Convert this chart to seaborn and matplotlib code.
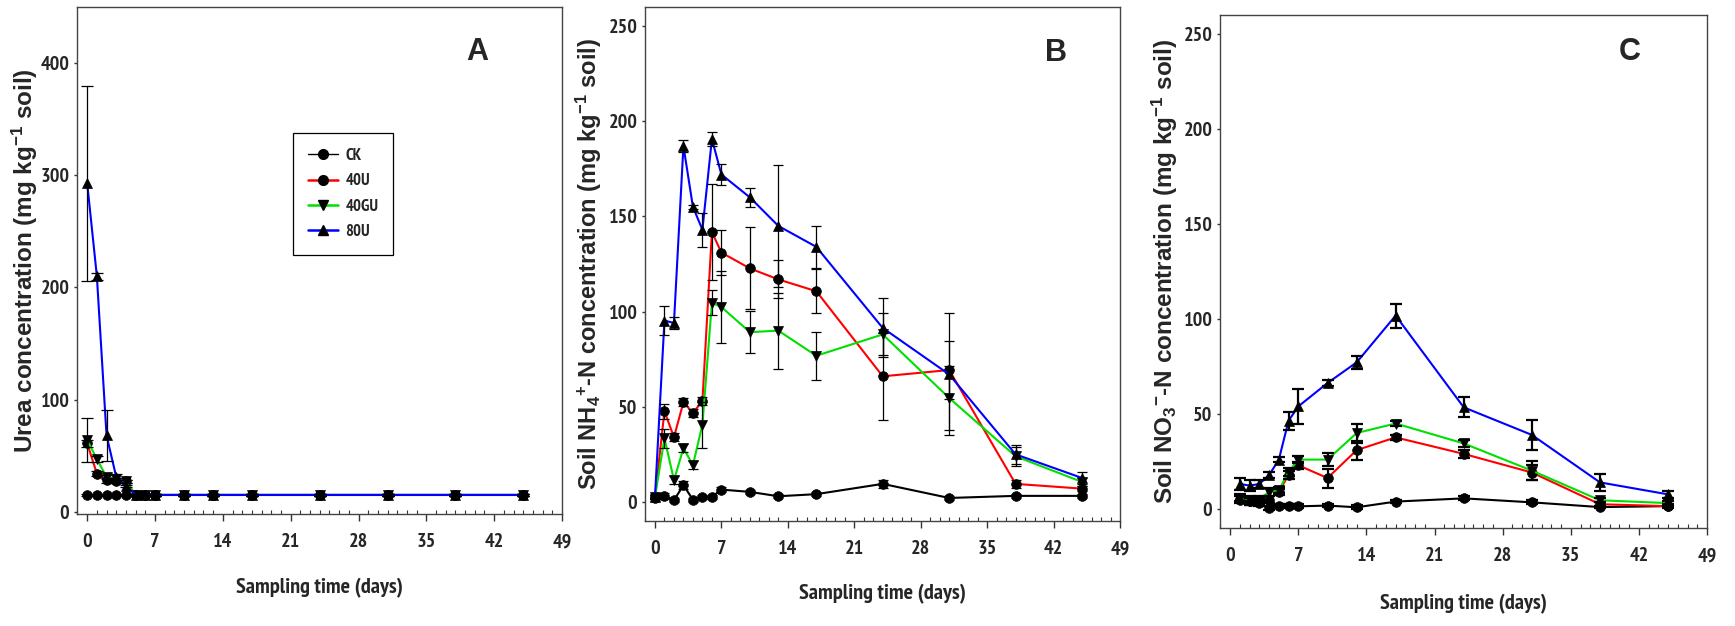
import numpy as np
import pandas as pd
import matplotlib
matplotlib.use("Agg")
import matplotlib.pyplot as plt
from matplotlib import font_manager as fm
from matplotlib.lines import Line2D
from matplotlib.ticker import MultipleLocator
import seaborn as sns

# ---------------- data ----------------
days = [0, 1, 2, 3, 4, 5, 6, 7, 10, 13, 17, 24, 31, 38, 45]
days_c = [1, 2, 3, 4, 5, 6, 7, 10, 13, 17, 24, 31, 38, 45]
treatments = ["CK", "40U", "40GU", "80U"]

# Urea concentration (mg kg-1 soil)
urea_ck = [15, 15, 15, 15, 15, 15, 15, 15, 15, 15, 15, 15, 15, 15, 15]
urea_40u = [61, 34, 28, 27, 27, 15, 15, 15, 15, 15, 15, 15, 15, 15, 15]
urea_40gu = [64, 47, 31, 29, 27, 15, 15, 15, 15, 15, 15, 15, 15, 15, 15]
urea_80u = [293, 210, 68, 31, 23, 15, 15, 15, 15, 15, 15, 15, 15, 15, 15]
urea_ck_se = [1, 1, 1, 1, 1, 1, 1, 1, 1, 1, 1, 1, 1, 1, 1]
urea_40u_se = [3, 2, 2, 1, 1, 1, 1, 1, 1, 1, 1, 1, 1, 1, 1]
urea_40gu_se = [20, 3, 2, 1, 1, 1, 1, 1, 1, 1, 1, 1, 1, 1, 1]
urea_80u_se = [87, 3, 23, 3, 1, 1, 1, 1, 1, 1, 1, 1, 1, 1, 1]

# Soil NH4+-N concentration (mg kg-1 soil)
nh4_ck = [2.3, 3.0, 0.9, 8.8, 1.2, 2.6, 2.6, 6.5, 5.3, 3.0, 4.1, 9.5, 2.1, 3.2, 3.2]
nh4_40u = [2.5, 47.7, 34.0, 52.4, 46.8, 53.0, 141.8, 131.0, 122.7, 116.9, 110.7, 66.0, 69.3, 9.5, 7.0]
nh4_40gu = [2.5, 33.5, 11.5, 28.2, 19.4, 40.6, 104.7, 102.4, 89.2, 90.0, 76.8, 88.0, 54.6, 24.0, 10.5]
nh4_80u = [2.5, 95.3, 94.0, 187.0, 155.0, 143.0, 190.7, 172.0, 160.0, 145.0, 134.0, 91.4, 67.0, 25.0, 12.6]
nh4_ck_se = [2, 1.5, 1, 2, 1, 1, 1, 1.5, 1, 1, 1, 2, 1, 1, 1]
nh4_40u_se = [1, 4, 2, 2, 2, 2, 25, 12, 21.6, 10, 11.5, 23, 15, 2, 1.5]
nh4_40gu_se = [1, 5, 2, 2, 2, 12, 6.5, 19, 11, 20, 12.6, 11, 17, 5, 2]
nh4_80u_se = [1, 7.4, 3.3, 3, 1, 9, 3.7, 5.5, 5, 32, 11, 15.5, 32, 5, 3]

# Soil NO3--N concentration (mg kg-1 soil)
no3_ck = [5.5, 4.0, 3.0, 0.5, 1.8, 1.4, 1.4, 1.8, 0.9, 3.9, 5.6, 3.5, 1.0, 1.5]
no3_40u = [5.0, 4.0, 4.0, 5.0, 9.0, 18.0, 23.0, 16.3, 31.0, 37.7, 29.0, 19.2, 2.5, 1.5]
no3_40gu = [6.0, 5.0, 5.0, 9.0, 10.0, 19.5, 26.0, 26.0, 40.0, 45.0, 34.5, 20.2, 4.6, 3.1]
no3_80u = [13.2, 12.3, 13.2, 17.9, 26.0, 46.5, 54.0, 66.3, 77.2, 101.8, 53.5, 39.0, 14.0, 7.7]
no3_ck_se = [2, 2, 1.5, 1, 1, 1, 1, 1, 1, 1, 1, 1, 0.5, 0.5]
no3_40u_se = [2, 2, 2, 2, 1.5, 2, 2, 5, 5, 1.5, 2, 4, 1, 1]
no3_40gu_se = [2, 2, 2, 2, 1.5, 2, 2, 3.5, 5, 1.5, 2, 5, 1, 1]
no3_80u_se = [3, 3, 2, 1.5, 1.5, 4.8, 9, 1.5, 3.3, 6.3, 5.3, 8, 4.5, 2]

x_ticks = [0, 7, 14, 21, 28, 35, 42, 49]

# ---------------- fonts ----------------
def pick_family(names, default="DejaVu Sans"):
    for n in names:
        try:
            fm.findfont(fm.FontProperties(family=n), fallback_to_default=False)
            return n
        except Exception:
            continue
    return default

SANS = pick_family(["Liberation Sans", "Arial", "DejaVu Sans"])
NARROW = pick_family(["PT Sans Narrow", "Roboto Condensed", "Open Sans Condensed"], default=None)


def narrow_fp(size):
    if NARROW is not None:
        return fm.FontProperties(family=NARROW, weight="bold", size=size)
    return fm.FontProperties(family="DejaVu Sans", weight="bold", stretch="condensed", size=size)


sns.set_style("ticks")
plt.rcParams["font.family"] = [SANS, "DejaVu Sans"]
plt.rcParams["mathtext.fontset"] = "custom"
plt.rcParams["mathtext.rm"] = f"{SANS}:bold"
plt.rcParams["mathtext.bf"] = f"{SANS}:bold"
plt.rcParams["mathtext.it"] = f"{SANS}:bold"
plt.rcParams["mathtext.default"] = "bf"

colors = {"CK": "#000000", "40U": "#FF0000", "40GU": "#00E000", "80U": "#0000FF"}
markers = {"CK": "o", "40U": "o", "40GU": "v", "80U": "^"}
msizes = {"CK": 7, "40U": 7, "40GU": 7.5, "80U": 7.5}

fig = plt.figure(figsize=(17.35, 6.26), dpi=100)
axA = fig.add_axes([77 / 1735, 1 - 514 / 626, 485 / 1735, 507 / 626])
axB = fig.add_axes([645 / 1735, 1 - 521 / 626, 475 / 1735, 514 / 626])
axC = fig.add_axes([1220 / 1735, 1 - 528 / 626, 487 / 1735, 513 / 626])


def draw_panel(ax, x, series, errs, err_lw, capsize):
    for name in treatments:
        df = pd.DataFrame({"day": x, "value": series[name]})
        sns.lineplot(data=df, x="day", y="value", ax=ax, color=colors[name],
                     lw=1.5, marker=markers[name], markersize=msizes[name],
                     markerfacecolor="black", markeredgecolor="black",
                     markeredgewidth=0.5, legend=False, errorbar=None, zorder=3)
    for name in treatments:
        ax.errorbar(x, series[name], yerr=errs[name], fmt="none", ecolor="black",
                    elinewidth=err_lw, capsize=capsize, capthick=err_lw, zorder=4)


draw_panel(axA, days,
           {"CK": urea_ck, "40U": urea_40u, "40GU": urea_40gu, "80U": urea_80u},
           {"CK": urea_ck_se, "40U": urea_40u_se, "40GU": urea_40gu_se, "80U": urea_80u_se},
           0.9, 4)
draw_panel(axB, days,
           {"CK": nh4_ck, "40U": nh4_40u, "40GU": nh4_40gu, "80U": nh4_80u},
           {"CK": nh4_ck_se, "40U": nh4_40u_se, "40GU": nh4_40gu_se, "80U": nh4_80u_se},
           0.9, 3.6)
draw_panel(axC, days_c,
           {"CK": no3_ck, "40U": no3_40u, "40GU": no3_40gu, "80U": no3_80u},
           {"CK": no3_ck_se, "40U": no3_40u_se, "40GU": no3_40gu_se, "80U": no3_80u_se},
           1.6, 4)

axA.set_ylim(-2, 450)
axA.set_yticks([0, 100, 200, 300, 400])
axB.set_ylim(-10, 260)
axB.set_yticks([0, 50, 100, 150, 200, 250])
axC.set_ylim(-10, 260)
axC.set_yticks([0, 50, 100, 150, 200, 250])

ylabels = {
    axA: ("Urea concentration (mg kg$^{-1}$ soil)", 17.5, (25 - 77) / 485),
    axB: ("Soil NH$_4$$^{+}$-N concentration (mg kg$^{-1}$ soil)", 17, (589 - 645) / 475),
    axC: ("Soil NO$_3$$^{-}$-N concentration (mg kg$^{-1}$ soil)", 17.5, (1165 - 1220) / 487),
}
xlabel_y = {axA: (514 - 588) / 507, axB: (521 - 594) / 514, axC: (528 - 604) / 513}
letters = {axA: ("A", 0.825, 0.911), axB: ("B", 0.865, 0.911), axC: ("C", 0.842, 0.928)}

tick_fp = narrow_fp(14.5)
for ax in (axA, axB, axC):
    ax.set_xlim(-1.05, 49)
    ax.set_xticks(x_ticks)
    ax.xaxis.set_minor_locator(MultipleLocator(1))
    ax.tick_params(axis="x", which="major", direction="out", length=5, width=1,
                   pad=9, color="#333333")
    ax.tick_params(axis="x", which="minor", direction="in", length=3, width=0.8,
                   color="#333333")
    ax.tick_params(axis="y", which="major", direction="out", length=2.5, width=1,
                   pad=3, color="#333333")
    ax.tick_params(top=False, right=False, which="both")
    for lab in ax.get_xticklabels() + ax.get_yticklabels():
        lab.set_fontproperties(tick_fp)
    for sp in ax.spines.values():
        sp.set_visible(True)
        sp.set_color("#444444")
        sp.set_linewidth(1.0)

    text, size, xpos = ylabels[ax]
    ax.set_ylabel(text, fontsize=size, fontweight="bold", family=[SANS, "DejaVu Sans"])
    ax.yaxis.label.set_verticalalignment("center")
    ax.yaxis.set_label_coords(xpos, 0.5)

    ax.set_xlabel("Sampling time (days)", fontproperties=narrow_fp(16))
    ax.xaxis.label.set_verticalalignment("center")
    ax.xaxis.set_label_coords(0.5, xlabel_y[ax])

    letter, lx, ly = letters[ax]
    ax.text(lx, ly, letter, transform=ax.transAxes, ha="center", va="center",
            fontsize=22, fontweight="bold", family=[SANS, "DejaVu Sans"])

# legend for the urea panel
handles = [
    Line2D([], [], color=colors["CK"], lw=1.0, marker="o", markersize=7,
           markerfacecolor="black", markeredgecolor="black"),
    Line2D([], [], color=colors["40U"], lw=1.8, marker="o", markersize=7,
           markerfacecolor="black", markeredgecolor="black"),
    Line2D([], [], color=colors["40GU"], lw=1.8, marker="v", markersize=7.5,
           markerfacecolor="black", markeredgecolor="black"),
    Line2D([], [], color=colors["80U"], lw=1.8, marker="^", markersize=7.5,
           markerfacecolor="black", markeredgecolor="black"),
]
leg = axA.legend(handles, treatments, loc="upper left", bbox_to_anchor=(0.445, 0.751),
                 frameon=True, fancybox=False, framealpha=1, edgecolor="black",
                 prop=narrow_fp(12), handlelength=1.8, handletextpad=0.45,
                 labelspacing=0.55, borderpad=0.9, borderaxespad=0)
leg.get_frame().set_linewidth(0.9)

fig.savefig("out.png", dpi=100, facecolor="white")
